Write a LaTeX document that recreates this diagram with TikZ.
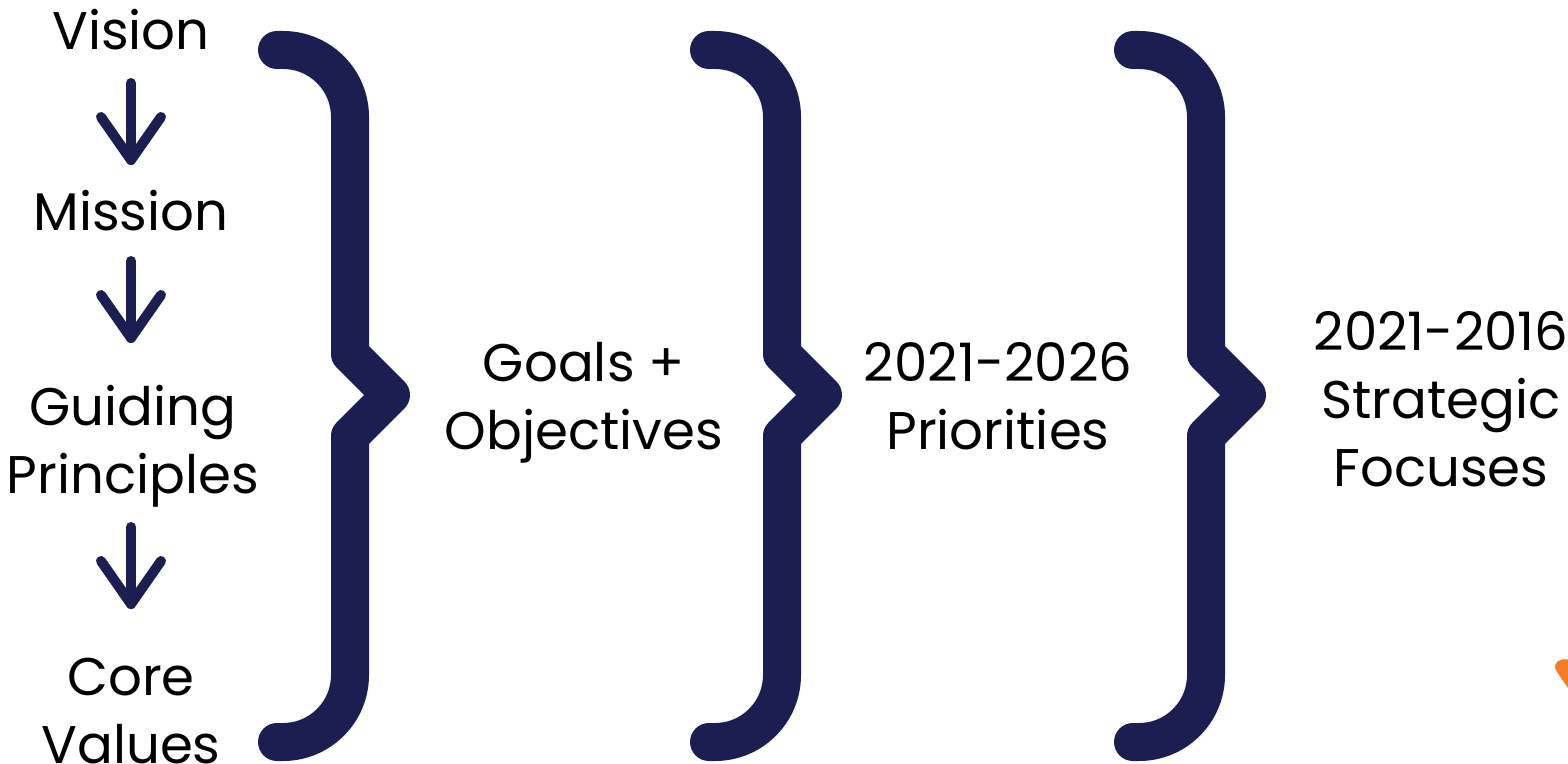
\documentclass[tikz,border=0pt]{standalone}
\usepackage{fontspec}
\setmainfont{Poppins}

\definecolor{navy}{RGB}{28,29,80}
\definecolor{orng}{RGB}{245,124,36}

\begin{document}
\begin{tikzpicture}[line cap=round,line join=round,x=0.5pt,y=-0.5pt,
		lbl/.style={font=\fontsize{26.5}{34}\selectfont,align=center,anchor=base,inner sep=0pt},
		brace/.style={draw=navy,line width=19pt},
		darr/.style={draw=navy,line width=5pt}]
	\useasboundingbox (0,0) rectangle (1568,764);
	% left column
	\node[lbl] (vision) at (131,50) {Vision};
	\node[lbl] (mission) at (131,231) {Mission};
	\node[lbl] (guiding) at (133,493) {Guiding\\Principles};
	\node[lbl] (core) at (131,763) {Core\\Values};
	% arrows
	\foreach \ya/\yb [count=\i] in {83/160, 261/338, 527/604}{
		\coordinate (a\i s) at (131,\ya);
		\coordinate (a\i e) at (131,\yb);
		\draw[darr] (a\i s) -- (a\i e);
		\draw[darr] (a\i e) ++(-30,-43) -- (a\i e) -- ++(30,-43);
	}
	% braces
	\foreach \bx in {350,782,1206}{
		\draw[brace] (\bx-73,50) -- (\bx-67,50) arc (-90:0:67) -- (\bx,354)
			-- (\bx+41,395) -- (\bx,436) -- (\bx,675) arc (0:90:67) -- (\bx-73,742);
	}
	% middle and right texts
	\node[lbl] (goals) at (584,450) {Goals +\\Objectives};
	\node[lbl] (priorities) at (998,450) {2021-2026\\Priorities};
	\node[lbl] (focuses) at (1441,486) {2021-2016\\Strategic\\Focuses};
	% orange corner
	\fill[orng,rounded corners=6pt] (1575,657) -- (1550,662) -- (1575,698) -- cycle;
\end{tikzpicture}
\end{document}
